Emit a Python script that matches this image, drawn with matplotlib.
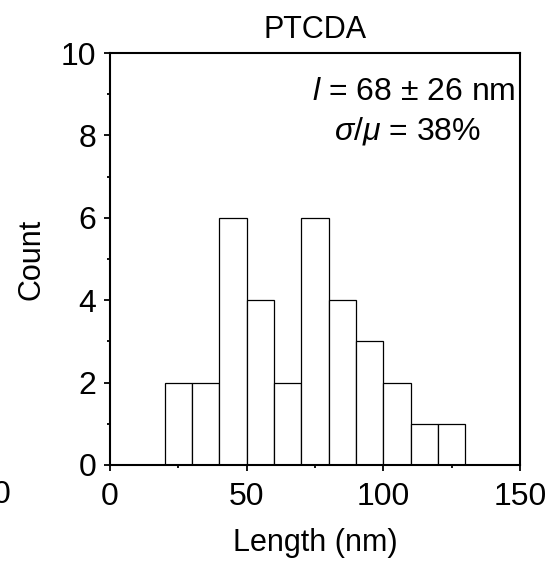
import numpy as np
import matplotlib
matplotlib.use('Agg')
import matplotlib.pyplot as plt
from matplotlib.ticker import MultipleLocator

plt.rcParams['font.family'] = ['Liberation Sans', 'DejaVu Sans']
plt.rcParams['mathtext.fontset'] = 'custom'
plt.rcParams['mathtext.it'] = 'Liberation Sans:italic'
plt.rcParams['mathtext.rm'] = 'Liberation Sans'

# histogram bins (nm) and counts
bin_left = [20, 30, 40, 50, 60, 70, 80, 90, 100, 110, 120]
counts = [2, 2, 6, 4, 2, 6, 4, 3, 2, 1, 1]
bin_width = 10

title = 'PTCDA'
stat_line1 = r'$l$ = 68 ± 26 nm'
stat_line2 = r'$\sigma/\mu$ = 38%'

fig = plt.figure(figsize=(5.56, 5.62), dpi=100)
ax = fig.add_axes([0.198, 0.1726, 0.737, 0.733])

ax.bar(bin_left, counts, width=bin_width, align='edge',
       facecolor='white', edgecolor='black', linewidth=0.9)

ax.set_xlim(0, 150)
ax.set_ylim(0, 10)
ax.xaxis.set_major_locator(MultipleLocator(50))
ax.xaxis.set_minor_locator(MultipleLocator(25))
ax.yaxis.set_major_locator(MultipleLocator(2))
ax.yaxis.set_minor_locator(MultipleLocator(1))
ax.tick_params(which='both', direction='out', labelsize=23, width=1.3)
ax.tick_params(which='major', length=4)
ax.tick_params(which='minor', length=2.5)
ax.tick_params(axis='x', pad=8)
ax.tick_params(axis='y', pad=6)
for s in ax.spines.values():
    s.set_linewidth(1.5)

ax.set_xlabel('Length (nm)', fontsize=22, labelpad=12)
ax.set_ylabel('Count', fontsize=22, labelpad=10)
ax.set_title(title, fontsize=22, pad=11)

ax.text(0.99, 0.905, stat_line1, transform=ax.transAxes, ha='right', va='center', fontsize=23)
ax.text(0.725, 0.81, stat_line2, transform=ax.transAxes, ha='center', va='center', fontsize=23)

# partial tick label of neighbouring panel at left edge
fig.text(-0.013, 0.119, '0', fontsize=23, ha='left', va='center')

fig.savefig('out.png', dpi=100)
